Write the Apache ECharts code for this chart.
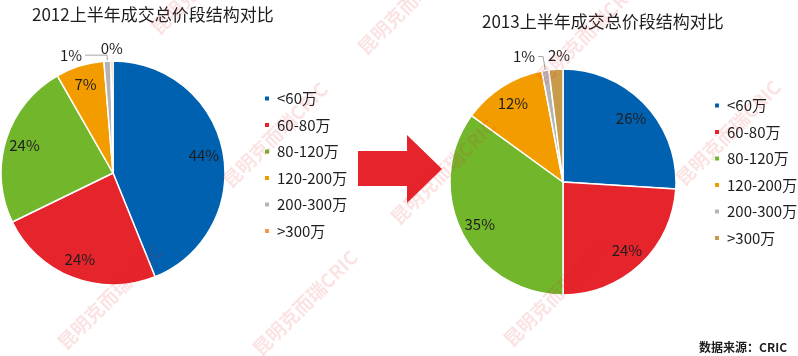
<!DOCTYPE html>
<html><head><meta charset="utf-8">
<script src="https://cdn.jsdelivr.net/npm/echarts@6/dist/echarts.min.js"></script>
<style>html,body{margin:0;padding:0;background:#fff}#c{width:798px;height:356px}</style>
</head><body><div id="c"></div>
<script>
const categories = ['<60万', '60-80万', '80-120万', '120-200万', '200-300万', '>300万'];
const values2012 = [44, 24, 24, 7, 1, 0.3];
const values2013 = [26, 24, 35, 12, 1, 2];
const title2012 = '2012上半年成交总价段结构对比';
const title2013 = '2013上半年成交总价段结构对比';
const sourceText = '数据来源：CRIC';
const watermarkText = '昆明克而瑞CRIC';

const colors2012 = ['#0061b0', '#e5242b', '#72b62c', '#f29c00', '#b4b4b4', '#f4974a'];
const colors2013 = ['#0061b0', '#e5242b', '#72b62c', '#f29c00', '#b4b4b4', '#c89b4a'];
// leader-line styling for the small outside labels (per chart, by slice index)
const smallLabelStyle2012 = {4: {len: 6, len2: 22, dist: 3, line: true}, 5: {len: 13, len2: 0, dist: -11, line: false}};
const smallLabelStyle2013 = {4: {len: 14, len2: 5, dist: 3, line: true}, 5: {len: 14, len2: 0, dist: -15, line: false}};
const FONT = '"Noto Sans CJK SC", "Microsoft YaHei", sans-serif';
const TXT = '#1e1e1e';

const chart = echarts.init(document.getElementById('c'), null, {renderer: 'canvas'});
const fmt = p => Math.round(p.value) + '%';

function mainSeries(values, colors, small, center, r) {
  return {
    type: 'pie', center: center, radius: r, startAngle: 90, clockwise: true,
    avoidLabelOverlap: false, animation: false,
    labelLayout: {hideOverlap: false},
    itemStyle: {borderColor: '#fff', borderWidth: 1.5},
    emphasis: {disabled: true},
    data: values.map((v, i) => {
      const s = small[i];
      return {
        name: categories[i], value: v,
        itemStyle: {color: colors[i]},
        label: s ? {show: true, position: 'outside', formatter: fmt, fontSize: 15, color: TXT, fontFamily: FONT,
                    distanceToLabelLine: s.dist}
                 : {show: false},
        labelLine: s ? {show: s.line, length: s.len, length2: s.len2, lineStyle: {color: '#a6a6a6', width: 1}}
                     : {show: false}
      };
    })
  };
}
function labelRing(values, small, center, r) {
  return {
    type: 'pie', center: center, radius: [r * 0.6, r], startAngle: 90, clockwise: true,
    silent: true, avoidLabelOverlap: false, animation: false, z: 3,
    itemStyle: {color: 'rgba(0,0,0,0)', borderWidth: 0},
    emphasis: {disabled: true},
    labelLine: {show: false},
    data: values.map((v, i) => ({
      name: categories[i], value: v,
      label: !small[i] ? {show: true, position: 'inside', formatter: fmt, fontSize: 15, color: TXT, fontFamily: FONT}
                       : {show: false}
    }))
  };
}
function legend(colors, left, top) {
  return {
    orient: 'vertical', left: left, top: top, icon: 'rect',
    itemWidth: 6, itemHeight: 6, itemGap: 9.5,
    textStyle: {fontSize: 15, color: TXT, fontFamily: FONT, lineHeight: 17, padding: [0, 0, 0, 2]},
    selectedMode: false,
    data: categories.map((n, i) => ({name: n, itemStyle: {color: colors[i]}}))
  };
}

const wmPos = [[110, 297], [305, 303], [556, 294], [275, 135], [443, 172], [728, 133], [203, -18], [410, 2], [588, 32]];
const graphics = [
  {type: 'polygon', z: 5, shape: {points: [[358, 151], [407, 151], [407, 135], [442, 169], [407, 203], [407, 186], [358, 186]]},
   style: {fill: '#e5242b'}},
  {type: 'text', right: 11, top: 341, z: 5,
   style: {text: sourceText, fontSize: 12, fontWeight: 'bold', fill: TXT, fontFamily: FONT}}
].concat(wmPos.map(p => ({
  type: 'text', x: p[0], y: p[1], rotation: Math.PI / 4, z: 100, silent: true,
  style: {text: watermarkText, fontSize: 19, fontWeight: 'bold', fill: 'rgba(225,40,40,0.13)',
          align: 'center', verticalAlign: 'middle', fontFamily: FONT}
})));

chart.setOption({
  backgroundColor: '#fff',
  animation: false,
  title: [
    {text: title2012, left: 27, top: 1, textStyle: {fontSize: 17, fontWeight: 'normal', color: TXT, fontFamily: FONT}},
    {text: title2013, left: 477, top: 8, textStyle: {fontSize: 17, fontWeight: 'normal', color: TXT, fontFamily: FONT}}
  ],
  legend: [legend(colors2012, 258, 85), legend(colors2013, 708, 92)],
  series: [
    mainSeries(values2012, colors2012, smallLabelStyle2012, [113, 173], 112),
    labelRing(values2012, smallLabelStyle2012, [113, 173], 112),
    mainSeries(values2013, colors2013, smallLabelStyle2013, [563, 182], 113),
    labelRing(values2013, smallLabelStyle2013, [563, 182], 113)
  ],
  graphic: graphics
});
</script></body></html>
